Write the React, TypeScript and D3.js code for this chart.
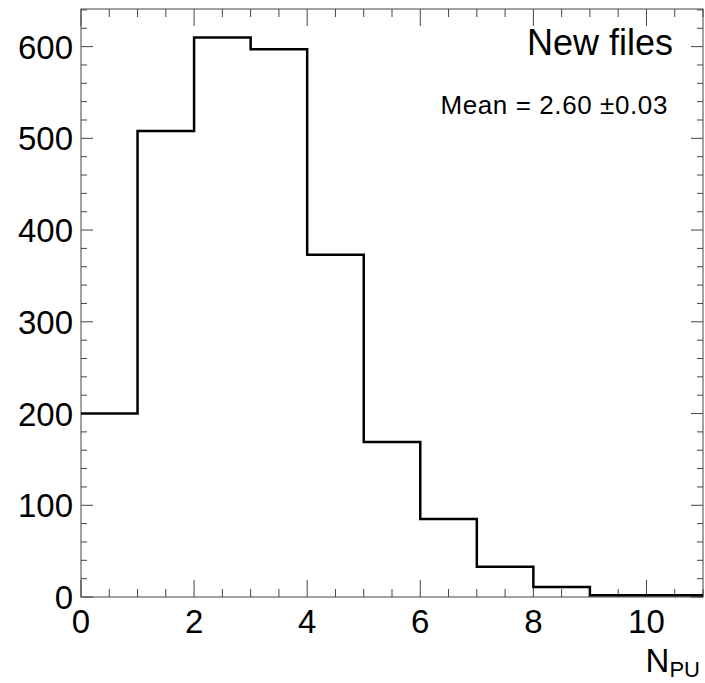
import React from "react";
import * as d3 from "d3";

const binEdges = [0, 1, 2, 3, 4, 5, 6, 7, 8, 9, 10, 11];
const counts = [200, 508, 610, 597, 373, 169, 85, 33, 11, 2, 2];
const xTicks = [0, 2, 4, 6, 8, 10];
const yTicks = [0, 100, 200, 300, 400, 500, 600];
const titleText = "New files";
const meanText = "Mean = 2.60 \u00b10.03";

const W = 705;
const H = 683;
const L = 81, R = 703, T = 9, B = 597;

export default function App() {
  const x = d3.scaleLinear().domain([0, 11]).range([L, R]);
  const y = d3.scaleLinear().domain([0, 641]).range([B, T]);

  let d = "";
  counts.forEach((c, i) => {
    if (i === 0) d += `M${x(binEdges[0])},${y(c)}`;
    else d += `L${x(binEdges[i])},${y(c)}`;
    d += `L${x(binEdges[i + 1])},${y(c)}`;
  });

  const xMinor = d3.range(0, 11.001, 0.5).filter((v) => !xTicks.includes(v));
  const yMinor = d3.range(0, 641, 20).filter((v) => !yTicks.includes(v));
  const font = "'Liberation Sans', Arial, Helvetica, sans-serif";
  const axisColor = "#444";

  return (
    <svg width={W} height={H} style={{ position: "absolute", left: 0, top: 0 }}>
      <rect x={0} y={0} width={W} height={H} fill="#fff" />
      <rect x={L} y={T} width={R - L} height={B - T} fill="none" stroke={axisColor} strokeWidth={1} />
      {xTicks.map((v) => (
        <g key={"xt" + v}>
          <line x1={x(v)} x2={x(v)} y1={B} y2={B - 17} stroke={axisColor} />
          <line x1={x(v)} x2={x(v)} y1={T} y2={T + 17} stroke={axisColor} />
          <text x={x(v)} y={B + 36} textAnchor="middle" fontSize={33} fontFamily={font} fill="#000">
            {v}
          </text>
        </g>
      ))}
      {xMinor.map((v) => (
        <g key={"xm" + v}>
          <line x1={x(v)} x2={x(v)} y1={B} y2={B - 8} stroke={axisColor} />
          <line x1={x(v)} x2={x(v)} y1={T} y2={T + 8} stroke={axisColor} />
        </g>
      ))}
      {yTicks.map((v) => (
        <g key={"yt" + v}>
          <line x1={L} x2={L + 12} y1={y(v)} y2={y(v)} stroke={axisColor} />
          <line x1={R} x2={R - 12} y1={y(v)} y2={y(v)} stroke={axisColor} />
          <text x={73} y={y(v) + 12} textAnchor="end" fontSize={33} fontFamily={font} fill="#000">
            {v}
          </text>
        </g>
      ))}
      {yMinor.map((v) => (
        <g key={"ym" + v}>
          <line x1={L} x2={L + 6} y1={y(v)} y2={y(v)} stroke={axisColor} />
          <line x1={R} x2={R - 6} y1={y(v)} y2={y(v)} stroke={axisColor} />
        </g>
      ))}
      <path d={d} fill="none" stroke="#000" strokeWidth={2.5} />
      <text x={673} y={55} textAnchor="end" fontSize={36} fontFamily={font} fill="#000">
        {titleText}
      </text>
      <text x={668} y={114} textAnchor="end" fontSize={26} fontFamily={font} fill="#000" letterSpacing={0.6}>
        {meanText}
      </text>
      <text x={700} y={672} textAnchor="end" fontSize={33} fontFamily={font} fill="#000">
        N
        <tspan fontSize={22} dy={5}>PU</tspan>
      </text>
    </svg>
  );
}
